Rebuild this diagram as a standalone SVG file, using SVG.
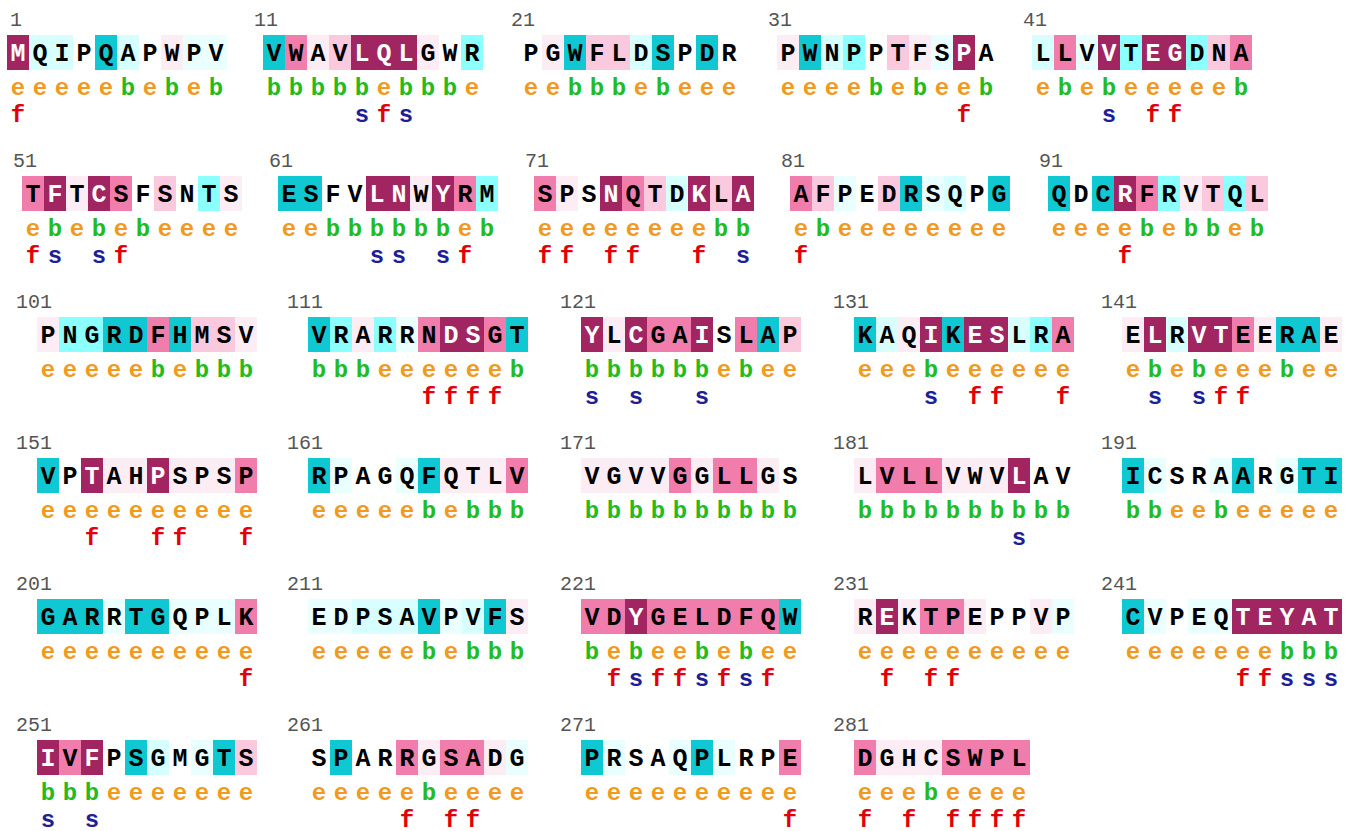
<svg xmlns="http://www.w3.org/2000/svg" width="1352" height="831" viewBox="0 0 1352 831">
<style>
.n{font-family:"Liberation Mono",monospace;font-size:20px;fill:#555;text-anchor:end}
.r,.e,.b,.f,.s{font-family:"Liberation Mono",monospace;font-size:24px;font-weight:bold;text-anchor:middle}
.r{fill:#000;font-size:25px}.w{fill:#fff}
.e{fill:#F29A20}.b{fill:#22BB22}.f{fill:#E2000A}.s{fill:#1E1E96}
.g1{fill:#10C8D1}.g2{fill:#8CFFFF}.g3{fill:#D7FFFF}.g4{fill:#EAFFFF}.g6{fill:#FCEDF4}.g7{fill:#FAC9DE}.g8{fill:#F07DAB}.g9{fill:#A02560}
</style>
<rect width="1352" height="831" fill="#fff"/>
<g id="connectors"/>

<!-- Row 1 -->
<g id="b1" transform="translate(7,0)">
<text class="n" x="15" y="26">1</text>
<rect class="g9" x="0" y="35" width="22" height="35"/><rect class="g3" x="22" y="35" width="22" height="35"/><rect class="g3" x="44" y="35" width="22" height="35"/><rect class="g1" x="88" y="35" width="22" height="35"/><rect class="g3" x="110" y="35" width="22" height="35"/><rect class="g6" x="154" y="35" width="22" height="35"/><rect class="g4" x="176" y="35" width="22" height="35"/><rect class="g4" x="198" y="35" width="22" height="35"/>
<text class="r" x="33 55 77 99 121 143 165 187 209" y="61">QIPQAPWPV</text><text class="r w" x="11" y="61">M</text>
<text class="e" x="11 33 55 77 99 143 187" y="95">eeeeeee</text><text class="b" x="121 165 209" y="95">bbb</text>
<text class="f" x="11" y="122">f</text>
</g>
<g id="b11" transform="translate(263,0)">
<text class="n" x="15" y="26">11</text>
<rect class="g1" x="0" y="35" width="22" height="35"/><rect class="g8" x="22" y="35" width="22" height="35"/><rect class="g6" x="44" y="35" width="22" height="35"/><rect class="g7" x="66" y="35" width="22" height="35"/><rect class="g9" x="88" y="35" width="66" height="35"/><rect class="g6" x="154" y="35" width="22" height="35"/><rect class="g2" x="198" y="35" width="22" height="35"/>
<text class="r" x="11 33 55 77 165 187 209" y="61">VWAVGWR</text><text class="r w" x="99 121 143" y="61">LQL</text>
<text class="b" x="11 33 55 77 99 143 165 187" y="95">bbbbbbbb</text><text class="e" x="121 209" y="95">ee</text>
<text class="s" x="99 143" y="122">ss</text><text class="f" x="121" y="122">f</text>
</g>
<g id="b21" transform="translate(520,0)">
<text class="n" x="15" y="26">21</text>
<rect class="g6" x="22" y="35" width="22" height="35"/><rect class="g1" x="44" y="35" width="22" height="35"/><rect class="g7" x="66" y="35" width="44" height="35"/><rect class="g3" x="110" y="35" width="22" height="35"/><rect class="g1" x="132" y="35" width="22" height="35"/><rect class="g1" x="176" y="35" width="22" height="35"/>
<text class="r" x="11 33 55 77 99 121 143 165 187 209" y="61">PGWFLDSPDR</text>
<text class="e" x="11 33 121 165 187 209" y="95">eeeeee</text><text class="b" x="55 77 99 143" y="95">bbbb</text>
</g>
<g id="b31" transform="translate(777,0)">
<text class="n" x="15" y="26">31</text>
<rect class="g6" x="0" y="35" width="22" height="35"/><rect class="g1" x="22" y="35" width="22" height="35"/><rect class="g3" x="44" y="35" width="22" height="35"/><rect class="g2" x="66" y="35" width="22" height="35"/><rect class="g7" x="110" y="35" width="22" height="35"/><rect class="g6" x="132" y="35" width="22" height="35"/><rect class="g4" x="154" y="35" width="22" height="35"/><rect class="g9" x="176" y="35" width="22" height="35"/>
<text class="r" x="11 33 55 77 99 121 143 165 209" y="61">PWNPPTFSA</text><text class="r w" x="187" y="61">P</text>
<text class="e" x="11 33 55 77 121 165 187" y="95">eeeeeee</text><text class="b" x="99 143 209" y="95">bbb</text>
<text class="f" x="187" y="122">f</text>
</g>
<g id="b41" transform="translate(1032,0)">
<text class="n" x="15" y="26">41</text>
<rect class="g3" x="0" y="35" width="22" height="35"/><rect class="g8" x="22" y="35" width="22" height="35"/><rect class="g4" x="44" y="35" width="22" height="35"/><rect class="g9" x="66" y="35" width="22" height="35"/><rect class="g2" x="88" y="35" width="22" height="35"/><rect class="g9" x="110" y="35" width="44" height="35"/><rect class="g2" x="154" y="35" width="22" height="35"/><rect class="g7" x="176" y="35" width="22" height="35"/><rect class="g8" x="198" y="35" width="22" height="35"/>
<text class="r" x="11 33 55 99 165 187 209" y="61">LLVTDNA</text><text class="r w" x="77 121 143" y="61">VEG</text>
<text class="e" x="11 55 99 121 143 165 187" y="95">eeeeeee</text><text class="b" x="33 77 209" y="95">bbb</text>
<text class="s" x="77" y="122">s</text><text class="f" x="121 143" y="122">ff</text>
</g>

<!-- Row 2 -->
<g id="b51" transform="translate(22,141)">
<text class="n" x="15" y="26">51</text>
<rect class="g8" x="0" y="35" width="22" height="35"/><rect class="g9" x="22" y="35" width="22" height="35"/><rect class="g6" x="44" y="35" width="22" height="35"/><rect class="g9" x="66" y="35" width="22" height="35"/><rect class="g8" x="88" y="35" width="22" height="35"/><rect class="g7" x="132" y="35" width="22" height="35"/><rect class="g2" x="176" y="35" width="22" height="35"/><rect class="g6" x="198" y="35" width="22" height="35"/>
<text class="r" x="11 55 99 121 143 165 187 209" y="61">TTSFSNTS</text><text class="r w" x="33 77" y="61">FC</text>
<text class="e" x="11 55 99 143 165 187 209" y="95">eeeeeee</text><text class="b" x="33 77 121" y="95">bbb</text>
<text class="f" x="11 99" y="122">ff</text><text class="s" x="33 77" y="122">ss</text>
</g>
<g id="b61" transform="translate(278,141)">
<text class="n" x="15" y="26">61</text>
<rect class="g1" x="0" y="35" width="44" height="35"/><rect class="g9" x="88" y="35" width="44" height="35"/><rect class="g6" x="132" y="35" width="22" height="35"/><rect class="g9" x="154" y="35" width="22" height="35"/><rect class="g8" x="176" y="35" width="22" height="35"/><rect class="g2" x="198" y="35" width="22" height="35"/>
<text class="r" x="11 33 55 77 143 187 209" y="61">ESFVWRM</text><text class="r w" x="99 121 165" y="61">LNY</text>
<text class="e" x="11 33 187" y="95">eee</text><text class="b" x="55 77 99 121 143 165 209" y="95">bbbbbbb</text>
<text class="s" x="99 121 165" y="122">sss</text><text class="f" x="187" y="122">f</text>
</g>
<g id="b71" transform="translate(534,141)">
<text class="n" x="15" y="26">71</text>
<rect class="g8" x="0" y="35" width="22" height="35"/><rect class="g6" x="22" y="35" width="22" height="35"/><rect class="g9" x="66" y="35" width="22" height="35"/><rect class="g8" x="88" y="35" width="22" height="35"/><rect class="g7" x="110" y="35" width="22" height="35"/><rect class="g3" x="132" y="35" width="22" height="35"/><rect class="g9" x="154" y="35" width="22" height="35"/><rect class="g7" x="176" y="35" width="22" height="35"/><rect class="g9" x="198" y="35" width="22" height="35"/>
<text class="r" x="11 33 55 99 121 143 187" y="61">SPSQTDL</text><text class="r w" x="77 165 209" y="61">NKA</text>
<text class="e" x="11 33 55 77 99 121 143 165" y="95">eeeeeeee</text><text class="b" x="187 209" y="95">bb</text>
<text class="f" x="11 33 77 99 165" y="122">fffff</text><text class="s" x="209" y="122">s</text>
</g>
<g id="b81" transform="translate(790,141)">
<text class="n" x="15" y="26">81</text>
<rect class="g8" x="0" y="35" width="22" height="35"/><rect class="g7" x="22" y="35" width="22" height="35"/><rect class="g4" x="44" y="35" width="22" height="35"/><rect class="g7" x="88" y="35" width="22" height="35"/><rect class="g1" x="110" y="35" width="22" height="35"/><rect class="g4" x="132" y="35" width="22" height="35"/><rect class="g3" x="154" y="35" width="22" height="35"/><rect class="g1" x="198" y="35" width="22" height="35"/>
<text class="r" x="11 33 55 77 99 121 143 165 187 209" y="61">AFPEDRSQPG</text>
<text class="e" x="11 55 77 99 121 143 165 187 209" y="95">eeeeeeeee</text><text class="b" x="33" y="95">b</text>
<text class="f" x="11" y="122">f</text>
</g>
<g id="b91" transform="translate(1048,141)">
<text class="n" x="15" y="26">91</text>
<rect class="g1" x="0" y="35" width="22" height="35"/><rect class="g1" x="44" y="35" width="22" height="35"/><rect class="g9" x="66" y="35" width="22" height="35"/><rect class="g8" x="88" y="35" width="22" height="35"/><rect class="g2" x="110" y="35" width="22" height="35"/><rect class="g6" x="132" y="35" width="22" height="35"/><rect class="g7" x="154" y="35" width="22" height="35"/><rect class="g2" x="176" y="35" width="22" height="35"/><rect class="g7" x="198" y="35" width="22" height="35"/>
<text class="r" x="11 33 55 99 121 143 165 187 209" y="61">QDCFRVTQL</text><text class="r w" x="77" y="61">R</text>
<text class="e" x="11 33 55 77 121 187" y="95">eeeeee</text><text class="b" x="99 143 165 209" y="95">bbbb</text>
<text class="f" x="77" y="122">f</text>
</g>

<!-- Row 3 -->
<g id="b101" transform="translate(37,282)">
<text class="n" x="15" y="26">101</text>
<rect class="g6" x="0" y="35" width="22" height="35"/><rect class="g2" x="22" y="35" width="44" height="35"/><rect class="g1" x="66" y="35" width="44" height="35"/><rect class="g8" x="110" y="35" width="22" height="35"/><rect class="g1" x="132" y="35" width="22" height="35"/><rect class="g7" x="154" y="35" width="44" height="35"/><rect class="g6" x="198" y="35" width="22" height="35"/>
<text class="r" x="11 33 55 77 99 121 143 165 187 209" y="61">PNGRDFHMSV</text>
<text class="e" x="11 33 55 77 99 143" y="95">eeeeee</text><text class="b" x="121 165 187 209" y="95">bbbb</text>
</g>
<g id="b111" transform="translate(308,282)">
<text class="n" x="15" y="26">111</text>
<rect class="g1" x="0" y="35" width="22" height="35"/><rect class="g2" x="22" y="35" width="22" height="35"/><rect class="g6" x="44" y="35" width="22" height="35"/><rect class="g2" x="66" y="35" width="22" height="35"/><rect class="g4" x="88" y="35" width="22" height="35"/><rect class="g8" x="110" y="35" width="22" height="35"/><rect class="g9" x="132" y="35" width="44" height="35"/><rect class="g8" x="176" y="35" width="22" height="35"/><rect class="g1" x="198" y="35" width="22" height="35"/>
<text class="r" x="11 33 55 77 99 121 187 209" y="61">VRARRNGT</text><text class="r w" x="143 165" y="61">DS</text>
<text class="b" x="11 33 55 209" y="95">bbbb</text><text class="e" x="77 99 121 143 165 187" y="95">eeeeee</text>
<text class="f" x="121 143 165 187" y="122">ffff</text>
</g>
<g id="b121" transform="translate(581,282)">
<text class="n" x="15" y="26">121</text>
<rect class="g9" x="0" y="35" width="22" height="35"/><rect class="g6" x="22" y="35" width="22" height="35"/><rect class="g9" x="44" y="35" width="22" height="35"/><rect class="g8" x="66" y="35" width="44" height="35"/><rect class="g9" x="110" y="35" width="22" height="35"/><rect class="g8" x="154" y="35" width="22" height="35"/><rect class="g1" x="176" y="35" width="22" height="35"/><rect class="g7" x="198" y="35" width="22" height="35"/>
<text class="r" x="33 77 99 143 165 187 209" y="61">LGASLAP</text><text class="r w" x="11 55 121" y="61">YCI</text>
<text class="b" x="11 33 55 77 99 121 165" y="95">bbbbbbb</text><text class="e" x="143 187 209" y="95">eee</text>
<text class="s" x="11 55 121" y="122">sss</text>
</g>
<g id="b131" transform="translate(854,282)">
<text class="n" x="15" y="26">131</text>
<rect class="g1" x="0" y="35" width="22" height="35"/><rect class="g3" x="22" y="35" width="22" height="35"/><rect class="g6" x="44" y="35" width="22" height="35"/><rect class="g9" x="66" y="35" width="22" height="35"/><rect class="g1" x="88" y="35" width="22" height="35"/><rect class="g9" x="110" y="35" width="44" height="35"/><rect class="g3" x="154" y="35" width="22" height="35"/><rect class="g2" x="176" y="35" width="22" height="35"/><rect class="g8" x="198" y="35" width="22" height="35"/>
<text class="r" x="11 33 55 99 165 187 209" y="61">KAQKLRA</text><text class="r w" x="77 121 143" y="61">IES</text>
<text class="e" x="11 33 55 99 121 143 165 187 209" y="95">eeeeeeeee</text><text class="b" x="77" y="95">b</text>
<text class="s" x="77" y="122">s</text><text class="f" x="121 143 209" y="122">fff</text>
</g>
<g id="b141" transform="translate(1122,282)">
<text class="n" x="15" y="26">141</text>
<rect class="g6" x="0" y="35" width="22" height="35"/><rect class="g9" x="22" y="35" width="22" height="35"/><rect class="g3" x="44" y="35" width="22" height="35"/><rect class="g9" x="66" y="35" width="44" height="35"/><rect class="g8" x="110" y="35" width="22" height="35"/><rect class="g6" x="132" y="35" width="22" height="35"/><rect class="g1" x="154" y="35" width="44" height="35"/><rect class="g6" x="198" y="35" width="22" height="35"/>
<text class="r" x="11 55 121 143 165 187 209" y="61">EREERAE</text><text class="r w" x="33 77 99" y="61">LVT</text>
<text class="e" x="11 55 99 121 143 187 209" y="95">eeeeeee</text><text class="b" x="33 77 165" y="95">bbb</text>
<text class="s" x="33 77" y="122">ss</text><text class="f" x="99 121" y="122">ff</text>
</g>

<!-- Row 4 -->
<g id="b151" transform="translate(37,423)">
<text class="n" x="15" y="26">151</text>
<rect class="g1" x="0" y="35" width="22" height="35"/><rect class="g9" x="44" y="35" width="22" height="35"/><rect class="g6" x="66" y="35" width="44" height="35"/><rect class="g9" x="110" y="35" width="22" height="35"/><rect class="g6" x="132" y="35" width="66" height="35"/><rect class="g8" x="198" y="35" width="22" height="35"/>
<text class="r" x="11 33 77 99 143 165 187 209" y="61">VPAHSPSP</text><text class="r w" x="55 121" y="61">TP</text>
<text class="e" x="11 33 55 77 99 121 143 165 187 209" y="95">eeeeeeeeee</text>
<text class="f" x="55 121 143 209" y="122">ffff</text>
</g>
<g id="b161" transform="translate(308,423)">
<text class="n" x="15" y="26">161</text>
<rect class="g1" x="0" y="35" width="22" height="35"/><rect class="g4" x="22" y="35" width="22" height="35"/><rect class="g4" x="88" y="35" width="22" height="35"/><rect class="g1" x="110" y="35" width="22" height="35"/><rect class="g6" x="132" y="35" width="66" height="35"/><rect class="g8" x="198" y="35" width="22" height="35"/>
<text class="r" x="11 33 55 77 99 121 143 165 187 209" y="61">RPAGQFQTLV</text>
<text class="e" x="11 33 55 77 99 143" y="95">eeeeee</text><text class="b" x="121 165 187 209" y="95">bbbb</text>
</g>
<g id="b171" transform="translate(581,423)">
<text class="n" x="15" y="26">171</text>
<rect class="g6" x="0" y="35" width="88" height="35"/><rect class="g8" x="88" y="35" width="22" height="35"/><rect class="g6" x="110" y="35" width="22" height="35"/><rect class="g8" x="132" y="35" width="44" height="35"/><rect class="g6" x="176" y="35" width="22" height="35"/>
<text class="r" x="11 33 55 77 99 121 143 165 187 209" y="61">VGVVGGLLGS</text>
<text class="b" x="11 33 55 77 99 121 143 165 187 209" y="95">bbbbbbbbbb</text>
</g>
<g id="b181" transform="translate(854,423)">
<text class="n" x="15" y="26">181</text>
<rect class="g6" x="0" y="35" width="22" height="35"/><rect class="g8" x="22" y="35" width="66" height="35"/><rect class="g6" x="88" y="35" width="66" height="35"/><rect class="g9" x="154" y="35" width="22" height="35"/>
<text class="r" x="11 33 55 77 99 121 143 187 209" y="61">LVLLVWVAV</text><text class="r w" x="165" y="61">L</text>
<text class="b" x="11 33 55 77 99 121 143 165 187 209" y="95">bbbbbbbbbb</text>
<text class="s" x="165" y="122">s</text>
</g>
<g id="b191" transform="translate(1122,423)">
<text class="n" x="15" y="26">191</text>
<rect class="g1" x="0" y="35" width="22" height="35"/><rect class="g4" x="22" y="35" width="22" height="35"/><rect class="g4" x="88" y="35" width="22" height="35"/><rect class="g1" x="110" y="35" width="22" height="35"/><rect class="g4" x="154" y="35" width="22" height="35"/><rect class="g1" x="176" y="35" width="44" height="35"/>
<text class="r" x="11 33 55 77 99 121 143 165 187 209" y="61">ICSRAARGTI</text>
<text class="b" x="11 33 99" y="95">bbb</text><text class="e" x="55 77 121 143 165 187 209" y="95">eeeeeee</text>
</g>

<!-- Row 5 -->
<g id="b201" transform="translate(37,564)">
<text class="n" x="15" y="26">201</text>
<rect class="g1" x="0" y="35" width="66" height="35"/><rect class="g4" x="66" y="35" width="22" height="35"/><rect class="g1" x="88" y="35" width="44" height="35"/><rect class="g4" x="132" y="35" width="66" height="35"/><rect class="g8" x="198" y="35" width="22" height="35"/>
<text class="r" x="11 33 55 77 99 121 143 165 187 209" y="61">GARRTGQPLK</text>
<text class="e" x="11 33 55 77 99 121 143 165 187 209" y="95">eeeeeeeeee</text>
<text class="f" x="209" y="122">f</text>
</g>
<g id="b211" transform="translate(308,564)">
<text class="n" x="15" y="26">211</text>
<rect class="g4" x="0" y="35" width="44" height="35"/><rect class="g3" x="44" y="35" width="66" height="35"/><rect class="g1" x="110" y="35" width="22" height="35"/><rect class="g4" x="132" y="35" width="22" height="35"/><rect class="g3" x="154" y="35" width="22" height="35"/><rect class="g1" x="176" y="35" width="22" height="35"/><rect class="g6" x="198" y="35" width="22" height="35"/>
<text class="r" x="11 33 55 77 99 121 143 165 187 209" y="61">EDPSAVPVFS</text>
<text class="e" x="11 33 55 77 99 143" y="95">eeeeee</text><text class="b" x="121 165 187 209" y="95">bbbb</text>
</g>
<g id="b221" transform="translate(581,564)">
<text class="n" x="15" y="26">221</text>
<rect class="g8" x="0" y="35" width="44" height="35"/><rect class="g9" x="44" y="35" width="22" height="35"/><rect class="g8" x="66" y="35" width="132" height="35"/><rect class="g1" x="198" y="35" width="22" height="35"/>
<text class="r" x="11 33 77 99 121 143 165 187 209" y="61">VDGELDFQW</text><text class="r w" x="55" y="61">Y</text>
<text class="b" x="11 55 121 165" y="95">bbbb</text><text class="e" x="33 77 99 143 187 209" y="95">eeeeee</text>
<text class="f" x="33 77 99 143 187" y="122">fffff</text><text class="s" x="55 121 165" y="122">sss</text>
</g>
<g id="b231" transform="translate(854,564)">
<text class="n" x="15" y="26">231</text>
<rect class="g6" x="0" y="35" width="22" height="35"/><rect class="g9" x="22" y="35" width="22" height="35"/><rect class="g6" x="44" y="35" width="22" height="35"/><rect class="g8" x="66" y="35" width="44" height="35"/><rect class="g6" x="110" y="35" width="22" height="35"/><rect class="g6" x="176" y="35" width="22" height="35"/><rect class="g4" x="198" y="35" width="22" height="35"/>
<text class="r" x="11 55 77 99 121 143 165 187 209" y="61">RKTPEPPVP</text><text class="r w" x="33" y="61">E</text>
<text class="e" x="11 33 55 77 99 121 143 165 187 209" y="95">eeeeeeeeee</text>
<text class="f" x="33 77 99" y="122">fff</text>
</g>
<g id="b241" transform="translate(1122,564)">
<text class="n" x="15" y="26">241</text>
<rect class="g1" x="0" y="35" width="22" height="35"/><rect class="g4" x="22" y="35" width="22" height="35"/><rect class="g4" x="66" y="35" width="44" height="35"/><rect class="g9" x="110" y="35" width="110" height="35"/>
<text class="r" x="11 33 55 77 99" y="61">CVPEQ</text><text class="r w" x="121 143 165 187 209" y="61">TEYAT</text>
<text class="e" x="11 33 55 77 99 121 143" y="95">eeeeeee</text><text class="b" x="165 187 209" y="95">bbb</text>
<text class="f" x="121 143" y="122">ff</text><text class="s" x="165 187 209" y="122">sss</text>
</g>

<!-- Row 6 -->
<g id="b251" transform="translate(37,705)">
<text class="n" x="15" y="26">251</text>
<rect class="g9" x="0" y="35" width="22" height="35"/><rect class="g8" x="22" y="35" width="22" height="35"/><rect class="g9" x="44" y="35" width="22" height="35"/><rect class="g1" x="88" y="35" width="22" height="35"/><rect class="g3" x="110" y="35" width="22" height="35"/><rect class="g4" x="154" y="35" width="22" height="35"/><rect class="g1" x="176" y="35" width="22" height="35"/><rect class="g7" x="198" y="35" width="22" height="35"/>
<text class="r" x="33 77 99 121 143 165 187 209" y="61">VPSGMGTS</text><text class="r w" x="11 55" y="61">IF</text>
<text class="b" x="11 33 55" y="95">bbb</text><text class="e" x="77 99 121 143 165 187 209" y="95">eeeeeee</text>
<text class="s" x="11 55" y="122">ss</text>
</g>
<g id="b261" transform="translate(308,705)">
<text class="n" x="15" y="26">261</text>
<rect class="g1" x="22" y="35" width="22" height="35"/><rect class="g8" x="88" y="35" width="22" height="35"/><rect class="g6" x="110" y="35" width="22" height="35"/><rect class="g8" x="132" y="35" width="44" height="35"/><rect class="g6" x="176" y="35" width="22" height="35"/><rect class="g4" x="198" y="35" width="22" height="35"/>
<text class="r" x="11 33 55 77 99 121 143 165 187 209" y="61">SPARRGSADG</text>
<text class="e" x="11 33 55 77 99 143 165 187 209" y="95">eeeeeeeee</text><text class="b" x="121" y="95">b</text>
<text class="f" x="99 143 165" y="122">fff</text>
</g>
<g id="b271" transform="translate(581,705)">
<text class="n" x="15" y="26">271</text>
<rect class="g1" x="0" y="35" width="22" height="35"/><rect class="g4" x="22" y="35" width="22" height="35"/><rect class="g4" x="88" y="35" width="22" height="35"/><rect class="g1" x="110" y="35" width="22" height="35"/><rect class="g4" x="132" y="35" width="22" height="35"/><rect class="g8" x="198" y="35" width="22" height="35"/>
<text class="r" x="11 33 55 77 99 121 143 165 187 209" y="61">PRSAQPLRPE</text>
<text class="e" x="11 33 55 77 99 121 143 165 187 209" y="95">eeeeeeeeee</text>
<text class="f" x="209" y="122">f</text>
</g>
<g id="b281" transform="translate(854,705)">
<text class="n" x="15" y="26">281</text>
<rect class="g8" x="0" y="35" width="22" height="35"/><rect class="g6" x="22" y="35" width="66" height="35"/><rect class="g8" x="88" y="35" width="88" height="35"/>
<text class="r" x="11 33 55 77 99 121 143 165" y="61">DGHCSWPL</text>
<text class="e" x="11 33 55 99 121 143 165" y="95">eeeeeee</text><text class="b" x="77" y="95">b</text>
<text class="f" x="11 55 99 121 143 165" y="122">ffffff</text>
</g>
</svg>
